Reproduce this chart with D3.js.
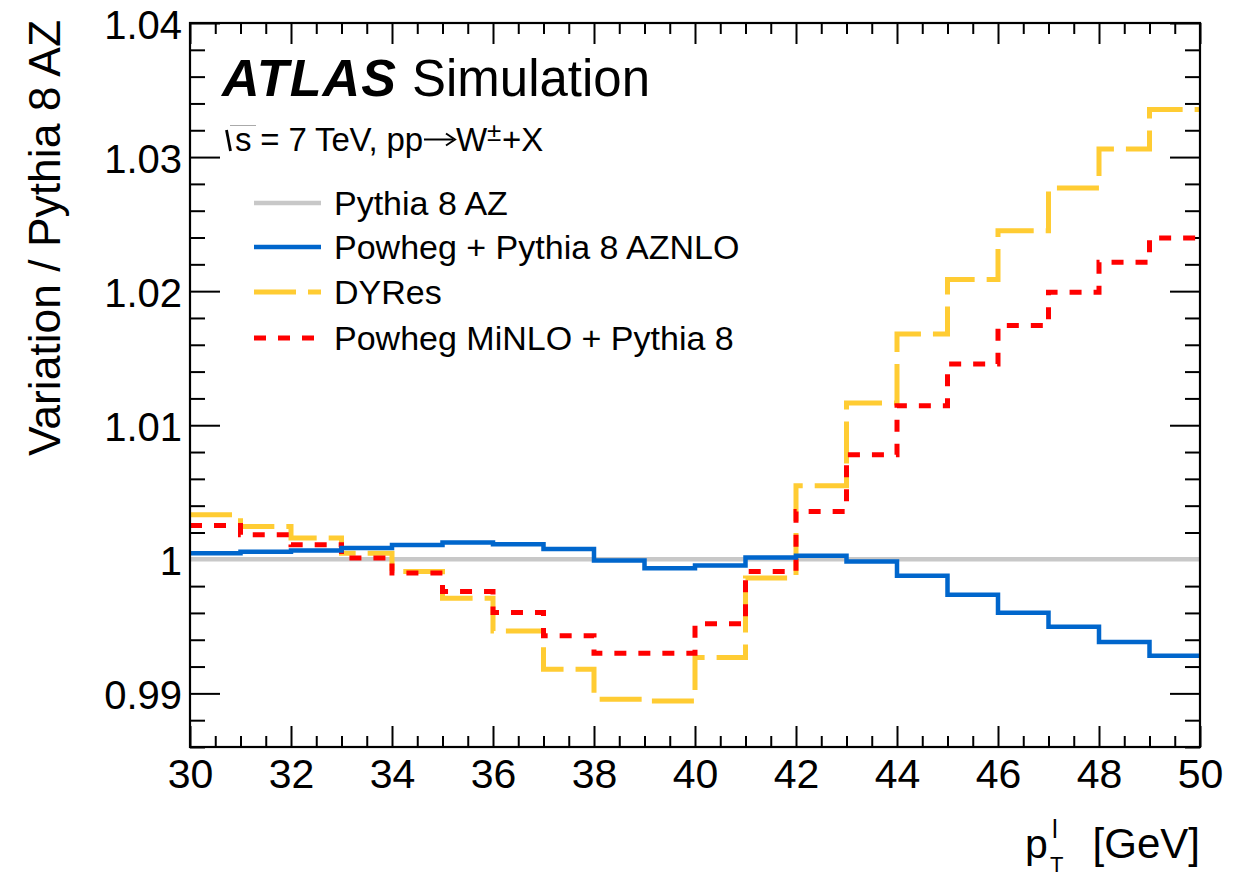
<!DOCTYPE html>
<html>
<head>
<meta charset="utf-8">
<script src="https://cdn.jsdelivr.net/npm/d3@7"></script>
<style>
  html, body { margin: 0; padding: 0; background: #fff; }
  text { font-family: "Liberation Sans", Arial, Helvetica, sans-serif; fill: #000; }
</style>
</head>
<body>
<script>
// ---------- data ----------
const binEdges = [30, 31, 32, 33, 34, 35, 36, 37, 38, 39, 40, 41, 42, 43, 44, 45, 46, 47, 48, 49, 50];

const pythiaAZ = [1, 1, 1, 1, 1, 1, 1, 1, 1, 1, 1, 1, 1, 1, 1, 1, 1, 1, 1, 1];
const powhegAZNLO = [1.00046, 1.00056, 1.00066, 1.00084, 1.00106, 1.00125, 1.00113, 1.00076, 0.99991, 0.99934,
                     0.99954, 1.00013, 1.00026, 0.99984, 0.99877, 0.99735, 0.99601, 0.99496, 0.99384, 0.9928];
const dyres = [1.00332, 1.00245, 1.00158, 1.00046, 0.99909, 0.9971, 0.99466, 0.9918, 0.98957, 0.98944,
               0.99267, 0.9986, 1.00549, 1.01166, 1.01681, 1.02086, 1.02451, 1.0277, 1.03061, 1.03354];
const minlo = [1.00252, 1.00183, 1.00108, 1.00009, 0.99897, 0.9976, 0.99603, 0.99429, 0.993, 0.993,
               0.99519, 0.99909, 1.00357, 1.0078, 1.01146, 1.01457, 1.01743, 1.01991, 1.02215, 1.02397];

const seriesNames = ["Pythia 8 AZ", "Powheg + Pythia 8 AZNLO", "DYRes", "Powheg MiNLO + Pythia 8"];

const xMajorTicks = [30, 32, 34, 36, 38, 40, 42, 44, 46, 48, 50];
const xTickLabels = ["30", "32", "34", "36", "38", "40", "42", "44", "46", "48", "50"];
const yMajorTicks = [0.99, 1.0, 1.01, 1.02, 1.03, 1.04];
const yTickLabels = ["0.99", "1", "1.01", "1.02", "1.03", "1.04"];

// ---------- layout ----------
const W = 1237, H = 879;
const L = 190, R = 1200, T = 23, B = 747;
const FONT = "'Liberation Sans', Arial, Helvetica, sans-serif";

const svg = d3.select("body").append("svg").attr("width", W).attr("height", H);

const x = d3.scaleLinear().domain([30, 50]).range([L, R]);
const y = d3.scaleLinear().domain([0.986, 1.04]).range([B, T]);

const xMinor = d3.range(30, 50.001, 0.5).filter(v => !xMajorTicks.includes(v));
const yMinor = d3.range(0, 28).map(i => +(0.986 + i * 0.002).toFixed(3)).filter(v => v <= 1.04 && !yMajorTicks.some(t => Math.abs(t - v) < 1e-9));

function cleanAxis(g) { g.select(".domain").remove(); g.selectAll("line").attr("stroke", "#000").attr("stroke-width", 2); }

// bottom axis major + labels
const gxb = svg.append("g").attr("transform", `translate(0,${B})`)
  .call(d3.axisBottom(x).tickValues(xMajorTicks).tickSize(-21).tickPadding(12)
        .tickFormat((d, i) => xTickLabels[i]));
cleanAxis(gxb);
gxb.selectAll("text").attr("font-size", 41).attr("font-family", FONT).attr("fill", "#000");
svg.append("g").attr("transform", `translate(0,${B})`)
  .call(d3.axisBottom(x).tickValues(xMinor).tickSize(-11).tickFormat("")).call(cleanAxis);
// top axis
svg.append("g").attr("transform", `translate(0,${T})`)
  .call(d3.axisTop(x).tickValues(xMajorTicks).tickSize(-21).tickFormat("")).call(cleanAxis);
svg.append("g").attr("transform", `translate(0,${T})`)
  .call(d3.axisTop(x).tickValues(xMinor).tickSize(-11).tickFormat("")).call(cleanAxis);

// left axis
const gyl = svg.append("g").attr("transform", `translate(${L},0)`)
  .call(d3.axisLeft(y).tickValues(yMajorTicks).tickSize(-30).tickPadding(8)
        .tickFormat((d, i) => yTickLabels[i]));
cleanAxis(gyl);
gyl.selectAll("text").attr("font-size", 40).attr("font-family", FONT).attr("fill", "#000").attr("dy", "0.38em");
svg.append("g").attr("transform", `translate(${L},0)`)
  .call(d3.axisLeft(y).tickValues(yMinor).tickSize(-15).tickFormat("")).call(cleanAxis);
// right axis
svg.append("g").attr("transform", `translate(${R},0)`)
  .call(d3.axisRight(y).tickValues(yMajorTicks).tickSize(-30).tickFormat("")).call(cleanAxis);
svg.append("g").attr("transform", `translate(${R},0)`)
  .call(d3.axisRight(y).tickValues(yMinor).tickSize(-15).tickFormat("")).call(cleanAxis);

// ---------- histograms ----------
function stepPoints(vals) {
  const pts = [];
  vals.forEach((v, i) => { pts.push([binEdges[i], v]); pts.push([binEdges[i + 1], v]); });
  return pts;
}
const line = d3.line().x(d => x(d[0])).y(d => y(d[1]));

const styles = [
  { color: "#c8c8c8", width: 4.5, dash: null },
  { color: "#0066cc", width: 4.5, dash: null },
  { color: "#ffcc33", width: 5, dash: "42 12" },
  { color: "#ff0000", width: 5, dash: "12 12" }
];
const seriesData = [pythiaAZ, powhegAZNLO, dyres, minlo];
const drawOrder = [0, 2, 3, 1];

const plotG = svg.append("g");
drawOrder.forEach(k => {
  const p = plotG.append("path")
    .attr("d", line(stepPoints(seriesData[k])))
    .attr("fill", "none")
    .attr("stroke", styles[k].color)
    .attr("stroke-width", styles[k].width)
    .attr("stroke-linejoin", "miter")
    .attr("stroke-linecap", "butt");
  if (styles[k].dash) p.attr("stroke-dasharray", styles[k].dash);
});

// frame
svg.append("rect").attr("x", L).attr("y", T).attr("width", R - L).attr("height", B - T)
  .attr("fill", "none").attr("stroke", "#000").attr("stroke-width", 2.2);

// ---------- texts ----------
svg.append("text").attr("x", 222).attr("y", 96).attr("font-size", 52)
  .attr("font-weight", "bold").attr("font-style", "italic")
  .attr("textLength", 174).attr("lengthAdjust", "spacing").text("ATLAS");
svg.append("text").attr("x", 412).attr("y", 96).attr("font-size", 51)
  .attr("textLength", 238).attr("lengthAdjust", "spacingAndGlyphs").text("Simulation");

// sqrt(s) line
svg.append("path").attr("d", "M226.5,130 L230.5,151").attr("stroke", "#000").attr("stroke-width", 2.8).attr("fill", "none");
svg.append("path").attr("d", "M230,125.5 L256,125.5").attr("stroke", "#aaa").attr("stroke-width", 1).attr("fill", "none");
svg.append("text").attr("x", 235).attr("y", 151).attr("font-size", 33)
  .attr("textLength", 188).attr("lengthAdjust", "spacing").text("s = 7 TeV, pp");
// arrow
svg.append("path").attr("d", "M424,139.5 L453,139.5").attr("stroke", "#000").attr("stroke-width", 2).attr("fill", "none");
svg.append("path").attr("d", "M446,133.5 L455,139.5 L446,145.5").attr("stroke", "#000").attr("stroke-width", 2).attr("fill", "none");
svg.append("text").attr("x", 456).attr("y", 151).attr("font-size", 33).text("W");
svg.append("text").attr("x", 487).attr("y", 141).attr("font-size", 26).text("\u00b1");
svg.append("text").attr("x", 502).attr("y", 151).attr("font-size", 33).text("+X");

// legend
const legY = [203, 247, 292, 338];
seriesNames.forEach((name, k) => {
  const ln = svg.append("line").attr("x1", 254).attr("x2", 321).attr("y1", legY[k]).attr("y2", legY[k])
    .attr("stroke", styles[k].color).attr("stroke-width", styles[k].width);
  if (styles[k].dash) ln.attr("stroke-dasharray", styles[k].dash);
  svg.append("text").attr("x", 334).attr("y", legY[k] + 12).attr("font-size", 34).text(name);
});

// axis titles
svg.append("text").attr("transform", "translate(60,20) rotate(-90)")
  .attr("text-anchor", "end").attr("font-size", 44)
  .attr("textLength", 436).attr("lengthAdjust", "spacingAndGlyphs").text("Variation / Pythia 8 AZ");

svg.append("text").attr("x", 1200).attr("y", 858).attr("text-anchor", "end").attr("font-size", 42).text("[GeV]");
svg.append("text").attr("x", 1025).attr("y", 858).attr("font-size", 41).text("p");
svg.append("text").attr("x", 1052).attr("y", 838).attr("font-size", 26).text("l");
svg.append("text").attr("x", 1050).attr("y", 872).attr("font-size", 22).text("T");
</script>
</body>
</html>
